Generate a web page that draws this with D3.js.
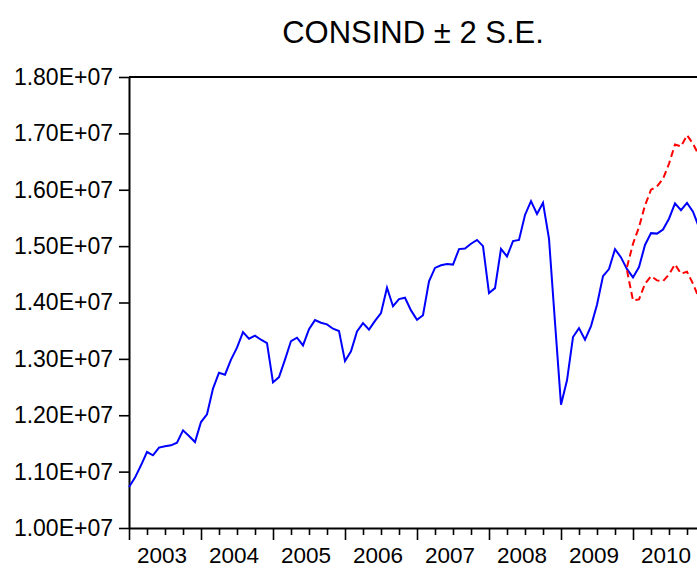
<!DOCTYPE html>
<html>
<head>
<meta charset="utf-8">
<script src="https://cdn.jsdelivr.net/npm/d3@7"></script>
<style>
  body { margin: 0; background: #fff; }
  svg { display: block; }
  text { font-family: "Liberation Sans", Arial, Helvetica, sans-serif; fill: #000; }
</style>
</head>
<body>
<svg id="chart" width="697" height="569"></svg>
<script>
// Monthly forecast of CONSIND, 2003M01 onwards (values in millions)
const years = ["2003", "2004", "2005", "2006", "2007", "2008", "2009", "2010"];

const consind = [
  10.727, 10.894, 11.112, 11.348, 11.289, 11.426, 11.449, 11.466, 11.514, 11.732, 11.631, 11.525,
  11.879, 12.016, 12.472, 12.755, 12.720, 12.986, 13.199, 13.475, 13.358, 13.411, 13.340, 13.280,
  12.583, 12.677, 12.986, 13.316, 13.376, 13.239, 13.528, 13.688, 13.642, 13.612, 13.535, 13.493,
  12.961, 13.133, 13.488, 13.635, 13.518, 13.674, 13.812, 14.262, 13.934, 14.060, 14.085, 13.860,
  13.695, 13.775, 14.374, 14.613, 14.661, 14.681, 14.672, 14.947, 14.959, 15.043, 15.110, 15.000,
  14.167, 14.255, 14.950, 14.817, 15.089, 15.110, 15.553, 15.798, 15.571, 15.770, 15.131, 13.647,
  12.188, 12.619, 13.387, 13.546, 13.340, 13.582, 13.961, 14.468, 14.592, 14.947, 14.800, 14.592,
  14.445, 14.628, 15.021, 15.230, 15.222, 15.293, 15.486, 15.757, 15.637, 15.766, 15.612, 15.332
];

// ±2 S.E. band, starting at 2009M12 (month index 83)
const bandStart = 83;
const upperBand = [14.628, 15.043, 15.337, 15.722, 16.000, 16.059, 16.195, 16.461, 16.803, 16.768, 16.968, 16.816, 16.608];
const lowerBand = [14.569, 14.037, 14.055, 14.333, 14.468, 14.392, 14.379, 14.498, 14.676, 14.511, 14.546, 14.333, 14.073];

const yTicks = [10, 11, 12, 13, 14, 15, 16, 17, 18];

const svg = d3.select("#chart");

const x = d3.scaleLinear().domain([0, 95]).range([129, 699]);
const y = d3.scaleLinear().domain([10, 18]).range([528, 77]);

// Title
svg.append("text")
  .attr("x", 413)
  .attr("y", 43)
  .attr("text-anchor", "middle")
  .style("font-size", "31px")
  .text("CONSIND \u00B1 2 S.E.");

// Top border of the plot frame
svg.append("line")
  .attr("x1", x(0)).attr("x2", 697)
  .attr("y1", y(18)).attr("y2", y(18))
  .attr("stroke", "#000").attr("stroke-width", 2);

// Left axis
const yAxis = svg.append("g")
  .attr("transform", `translate(${x(0)},0)`)
  .call(d3.axisLeft(y)
    .tickValues(yTicks)
    .tickSize(10)
    .tickSizeOuter(0)
    .tickPadding(6)
    .tickFormat(d => (d / 10).toFixed(2) + "E+07"));
yAxis.select(".domain").attr("stroke-width", 2);
yAxis.selectAll(".tick line").attr("stroke-width", 1.6);
yAxis.selectAll(".tick text")
  .style("font-size", "23px")
  .attr("font-family", null);

// Bottom axis: quarterly ticks, longer ticks at each year start
const quarterTicks = d3.range(0, 96, 3);
const xAxis = svg.append("g")
  .attr("transform", `translate(0,${y(10)})`)
  .call(d3.axisBottom(x)
    .tickValues(quarterTicks)
    .tickSize(7)
    .tickSizeOuter(0)
    .tickFormat(""));
xAxis.select(".domain").attr("stroke-width", 2);
xAxis.selectAll(".tick line")
  .attr("stroke-width", 1.6)
  .attr("y2", d => (d % 12 === 0 ? 12 : 7));

// Year labels centred within each year
svg.append("g")
  .selectAll("text")
  .data(years)
  .join("text")
  .attr("x", (d, i) => x(i * 12 + 6) - 3)
  .attr("y", 563)
  .attr("text-anchor", "middle")
  .style("font-size", "22.5px")
  .text(d => d);

// Forecast line
const line = d3.line()
  .x((d, i) => x(i))
  .y(d => y(d));

svg.append("path")
  .datum(consind)
  .attr("fill", "none")
  .attr("stroke", "#0000ff")
  .attr("stroke-width", 2)
  .attr("d", line);

// ±2 S.E. bands
const bandLine = d3.line()
  .x((d, i) => x(bandStart + i))
  .y(d => y(d));

[upperBand, lowerBand].forEach(b => {
  svg.append("path")
    .datum(b)
    .attr("fill", "none")
    .attr("stroke", "#ff0000")
    .attr("stroke-width", 2)
    .attr("stroke-dasharray", "7,4")
    .attr("d", bandLine);
});
</script>
</body>
</html>
